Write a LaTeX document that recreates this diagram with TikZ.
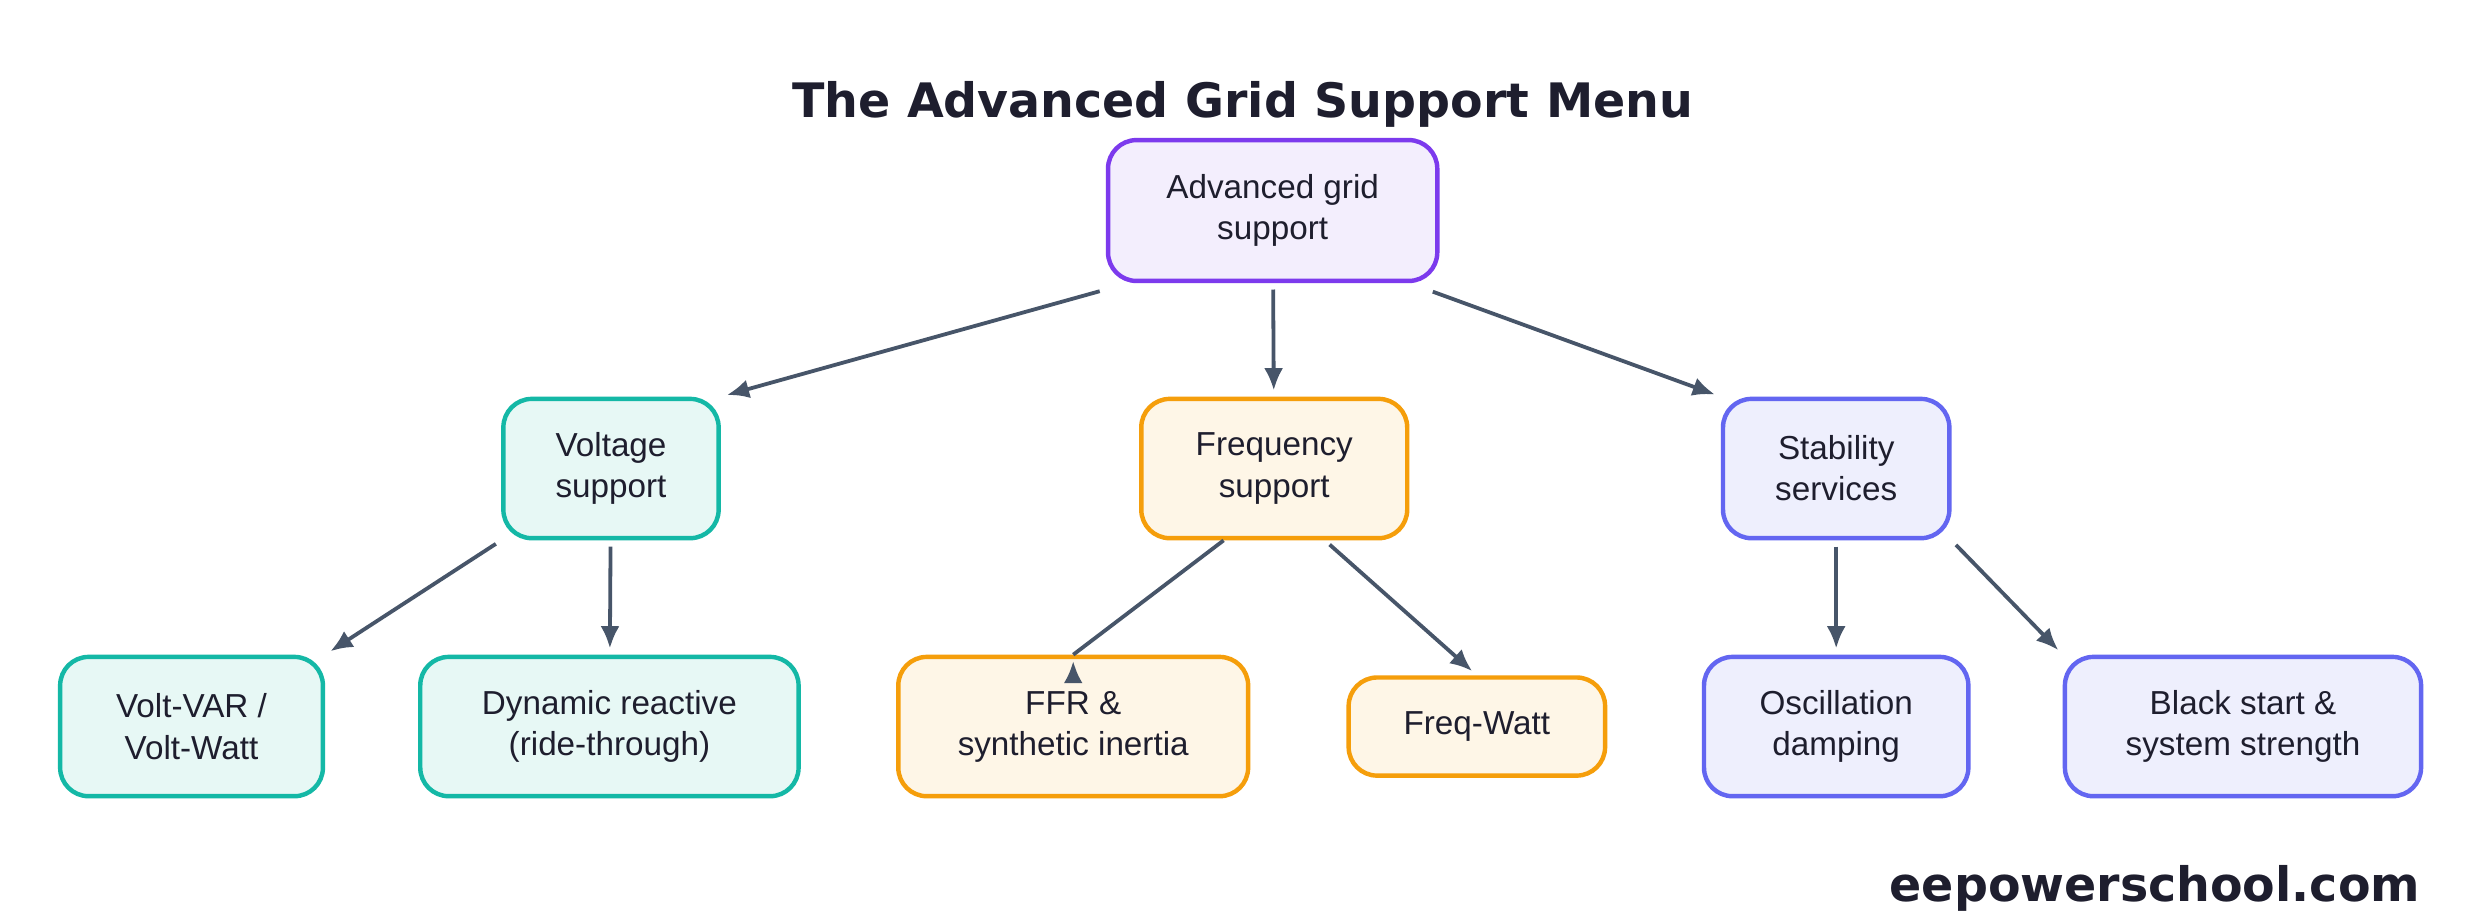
\documentclass[tikz,border=0pt]{standalone}
\usepackage{fontspec}
\setmainfont{Liberation Sans}
\newfontfamily\djv{DejaVu Sans}
\usetikzlibrary{arrows.meta}
\definecolor{txt}{HTML}{1E1E2E}
\definecolor{arr}{HTML}{475569}
\definecolor{tealB}{HTML}{14B8A6}\definecolor{tealF}{HTML}{E7F8F5}
\definecolor{orB}{HTML}{F59E0B}\definecolor{orF}{HTML}{FEF6E7}
\definecolor{inB}{HTML}{6366F1}\definecolor{inF}{HTML}{EEEFFD}
\definecolor{puB}{HTML}{7C3AED}\definecolor{puF}{HTML}{F3EEFD}
\tikzset{
 box/.style={draw,line width=1.4pt,rounded corners=9pt,align=center,text=txt,font=\fontsize{10.5}{13}\selectfont,inner sep=0pt},
 tealbox/.style={box,draw=tealB,fill=tealF},
 orbox/.style={box,draw=orB,fill=orF},
 inbox/.style={box,draw=inB,fill=inF},
 pubox/.style={box,draw=puB,fill=puF},
 conn/.style={draw=arr,line width=1.2pt,-{Latex[length=7pt,width=6pt]},shorten >=2pt,shorten <=2pt},
}
\begin{document}
\begin{tikzpicture}[x=0.5pt,y=-0.5pt]
\useasboundingbox[fill=white] (0,0) rectangle (1568,582);
\node[text=txt,font=\djv\bfseries\fontsize{15}{18}\selectfont] (title) at (785,66) {The Advanced Grid Support Menu};
\node[pubox,minimum width=104pt,minimum height=44.5pt] (root) at (804,133) {Advanced grid\\support};
\node[tealbox,minimum width=68pt,minimum height=44pt] (volt) at (386,296) {Voltage\\support};
\node[orbox,minimum width=84pt,minimum height=44pt] (freq) at (805,296) {Frequency\\support};
\node[inbox,minimum width=71.5pt,minimum height=44pt] (stab) at (1160,296) {Stability\\services};
\node[tealbox,minimum width=83pt,minimum height=44pt] (vv) at (121,459) {Volt-VAR /\\Volt-Watt};
\node[tealbox,minimum width=119.5pt,minimum height=44pt] (dyn) at (385,459) {Dynamic reactive\\(ride-through)};
\node[orbox,minimum width=110.5pt,minimum height=44pt] (ffr) at (678,459) {FFR \&\\synthetic inertia};
\node[orbox,minimum width=81pt,minimum height=31pt] (fw) at (933,459) {Freq-Watt};
\node[inbox,minimum width=83.5pt,minimum height=44pt] (osc) at (1160,459) {Oscillation\\damping};
\node[inbox,minimum width=112.5pt,minimum height=44pt] (bs) at (1417,459) {Black start \&\\system strength};
\node[anchor=east,text=txt,font=\djv\bfseries\fontsize{15}{18}\selectfont] (foot) at (1536,561) {eepowerschool.com};
\draw[conn] (root.south west) ++(0,-2pt) coordinate (r1) (r1) -- (volt.north east);
\draw[conn] (root) -- (freq);
\draw[conn] (root.south east) ++(-4pt,-2pt) coordinate (r2) (r2) -- (stab.north west);
\draw[conn] (volt.south west) -- (vv.north east);
\draw[conn] (volt) -- (dyn);
\draw[conn] (freq.south) ++(-16pt,0) coordinate (f1) (f1) -- (ffr.north) ++(0,0);
\draw[conn] (freq.south) ++(16pt,0) coordinate (f2) (f2) -- (fw.north);
\draw[conn] (stab) -- (osc);
\draw[conn] (stab.south east) -- (bs.north west);
\end{tikzpicture}
\end{document}
